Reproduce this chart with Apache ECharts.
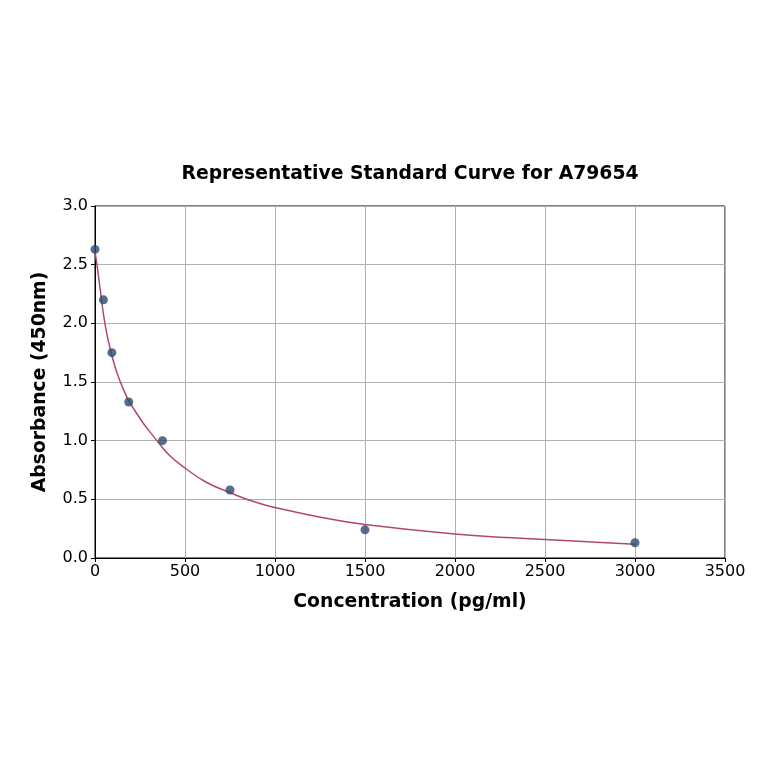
<!DOCTYPE html>
<html><head><meta charset="utf-8">
<script src="https://cdn.jsdelivr.net/npm/echarts@6/dist/echarts.min.js"></script>
<style>html,body{margin:0;padding:0;background:#fff}#c{width:764px;height:764px}</style>
</head><body><div id="c"></div>
<script>
const titleText = "Representative Standard Curve for A79654";
const xName = "Concentration (pg/ml)";
const yName = "Absorbance (450nm)";
const pointX = [0, 46.875, 93.75, 187.5, 375, 750, 1500, 3000];
const pointY = [2.63, 2.20, 1.75, 1.33, 1.00, 0.58, 0.24, 0.13];
const curveX = [0, 11, 28, 55, 89, 141, 228, 357, 413, 500, 616, 746, 876, 1000, 1246, 1500, 2000, 2500, 3000];
const curveY = [2.61, 2.50, 2.30, 2.00, 1.756, 1.50, 1.24, 0.975, 0.876, 0.767, 0.648, 0.560, 0.483, 0.430, 0.350, 0.285, 0.205, 0.157, 0.117];

const font = "DejaVu Sans";
const chart = echarts.init(document.getElementById('c'), null, {renderer: 'canvas'});
chart.setOption({
  backgroundColor: '#fff',
  animation: false,
  title: {
    text: titleText, left: 405, top: 160, textAlign: 'center',
    textStyle: {fontFamily: font, fontWeight: 'bold', fontSize: 18.8, color: '#000'}
  },
  grid: {left: 95, right: 39, top: 206, bottom: 206, show: true, borderColor: '#000', borderWidth: 1},
  xAxis: {
    type: 'value', min: 0, max: 3500, interval: 500,
    name: xName, nameLocation: 'middle', nameGap: 35,
    nameTextStyle: {fontFamily: font, fontWeight: 'bold', fontSize: 18.8, color: '#000'},
    axisLine: {show: true, onZero: false, lineStyle: {color: '#000'}},
    axisTick: {show: true, length: 4, inside: false, lineStyle: {color: '#000'}},
    axisLabel: {fontFamily: font, fontSize: 16, color: '#000', margin: 6,
      formatter: v => String(v)},
    splitLine: {show: true, lineStyle: {color: '#b0b0b0', width: 1}}
  },
  yAxis: {
    type: 'value', min: 0, max: 3.0, interval: 0.5,
    name: yName, nameLocation: 'middle', nameGap: 45, nameRotate: 90,
    nameTextStyle: {fontFamily: font, fontWeight: 'bold', fontSize: 18.8, color: '#000'},
    axisLine: {show: true, onZero: false, lineStyle: {color: '#000'}},
    axisTick: {show: true, length: 4, inside: false, lineStyle: {color: '#000'}},
    axisLabel: {fontFamily: font, fontSize: 16, color: '#000', margin: 7,
      formatter: v => v.toFixed(1)},
    splitLine: {show: true, lineStyle: {color: '#b0b0b0', width: 1}}
  },
  series: [
    {
      type: 'line', data: curveX.map((x, i) => [x, curveY[i]]),
      smooth: 0.5, showSymbol: false, symbol: 'none',
      lineStyle: {color: '#b0486e', width: 1.5}, z: 2
    },
    {
      type: 'scatter', data: pointX.map((x, i) => [x, pointY[i]]),
      symbol: 'circle', symbolSize: 9,
      itemStyle: {color: '#2b4a6e'}, z: 3
    }
  ]
});
</script></body></html>
